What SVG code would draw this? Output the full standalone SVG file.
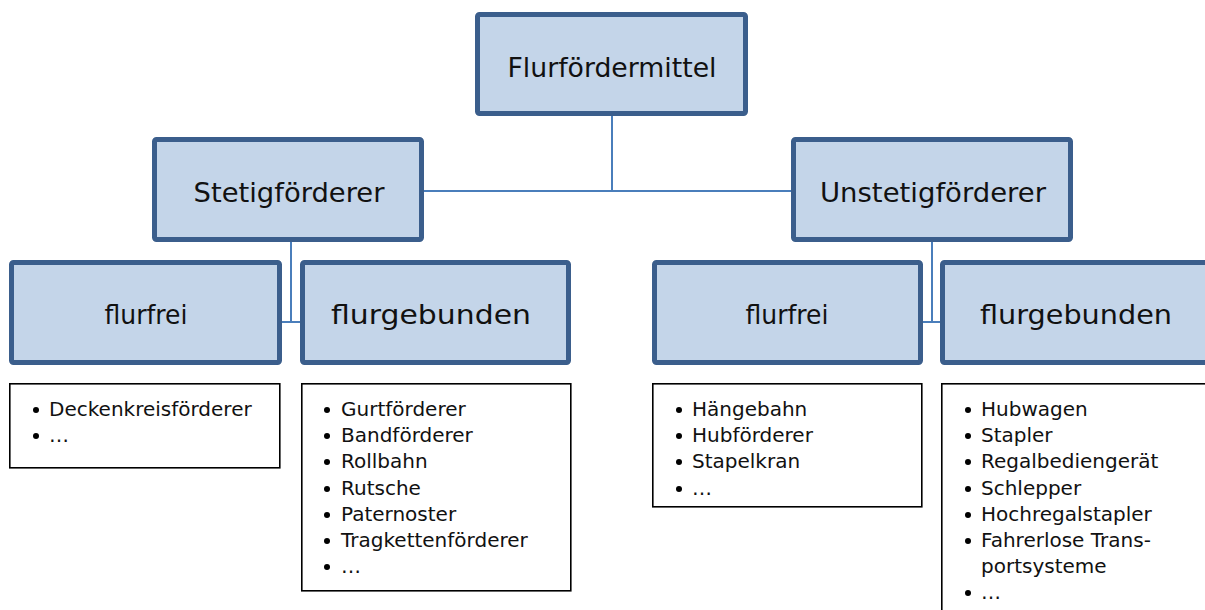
<svg xmlns="http://www.w3.org/2000/svg" width="1205" height="610" viewBox="0 0 1205 610">
<style>
.box{fill:#c4d5e9;stroke:#3b5e8c;stroke-width:5;}
.lbl{font-family:"DejaVu Sans",sans-serif;font-size:27px;fill:#111;text-anchor:middle;}
.list{fill:#fff;stroke:#000;stroke-width:1.6;}
.it{font-family:"DejaVu Sans",sans-serif;font-size:20px;fill:#111;}
.con{stroke:#4a7ebb;stroke-width:2;fill:none;}
.b{fill:#000;}
</style>
<rect width="1205" height="610" fill="#fff"/>
<g id="connectors">
<path class="con" d="M612 116V191M424 191H791"/>
<path class="con" d="M291 242V322M282 322H300"/>
<path class="con" d="M932 242V322M923 322H940"/>
</g>
<g id="n-root">
<rect class="box" x="477.5" y="14.5" width="268" height="99" rx="2"/>
<text class="lbl" x="612" y="77" textLength="209" lengthAdjust="spacingAndGlyphs">Flurfördermittel</text>
</g>
<g id="n-stetig">
<rect class="box" x="154.5" y="139.5" width="267" height="100" rx="2"/>
<text class="lbl" x="289" y="202" textLength="191" lengthAdjust="spacingAndGlyphs">Stetigförderer</text>
</g>
<g id="n-unstetig">
<rect class="box" x="793.5" y="139.5" width="277" height="100" rx="2"/>
<text class="lbl" x="933" y="202" textLength="226" lengthAdjust="spacingAndGlyphs">Unstetigförderer</text>
</g>
<g id="n-s-flurfrei">
<rect class="box" x="11.5" y="262.5" width="268" height="100" rx="2"/>
<text class="lbl" x="146" y="324" textLength="83" lengthAdjust="spacingAndGlyphs">flurfrei</text>
</g>
<g id="n-s-flurgebunden">
<rect class="box" x="302.5" y="262.5" width="266" height="100" rx="2"/>
<text class="lbl" x="431" y="324" textLength="200" lengthAdjust="spacingAndGlyphs">flurgebunden</text>
</g>
<g id="n-u-flurfrei">
<rect class="box" x="654.5" y="262.5" width="266" height="100" rx="2"/>
<text class="lbl" x="787" y="324" textLength="83" lengthAdjust="spacingAndGlyphs">flurfrei</text>
</g>
<g id="n-u-flurgebunden">
<rect class="box" x="942.5" y="262.5" width="266" height="100" rx="2"/>
<text class="lbl" x="1076" y="324" textLength="192" lengthAdjust="spacingAndGlyphs">flurgebunden</text>
</g>
<g id="l-s-flurfrei">
<rect class="list" x="9.8" y="383.8" width="270" height="84"/>
<circle class="b" cx="36" cy="410" r="3"/><text class="it" x="49" y="416">Deckenkreisförderer</text>
<circle class="b" cx="36" cy="436" r="3"/><text class="it" x="49" y="442">…</text>
</g>
<g id="l-s-flurgebunden">
<rect class="list" x="301.8" y="383.8" width="269" height="207"/>
<circle class="b" cx="327" cy="410" r="3"/><text class="it" x="341" y="416">Gurtförderer</text>
<circle class="b" cx="327" cy="436" r="3"/><text class="it" x="341" y="442">Bandförderer</text>
<circle class="b" cx="327" cy="462" r="3"/><text class="it" x="341" y="468">Rollbahn</text>
<circle class="b" cx="327" cy="489" r="3"/><text class="it" x="341" y="495">Rutsche</text>
<circle class="b" cx="327" cy="515" r="3"/><text class="it" x="341" y="521">Paternoster</text>
<circle class="b" cx="327" cy="541" r="3"/><text class="it" x="341" y="547">Tragkettenförderer</text>
<circle class="b" cx="327" cy="567" r="3"/><text class="it" x="341" y="573">…</text>
</g>
<g id="l-u-flurfrei">
<rect class="list" x="652.8" y="383.8" width="269" height="123"/>
<circle class="b" cx="679" cy="410" r="3"/><text class="it" x="692" y="416">Hängebahn</text>
<circle class="b" cx="679" cy="436" r="3"/><text class="it" x="692" y="442">Hubförderer</text>
<circle class="b" cx="679" cy="462" r="3"/><text class="it" x="692" y="468">Stapelkran</text>
<circle class="b" cx="679" cy="489" r="3"/><text class="it" x="692" y="495">…</text>
</g>
<g id="l-u-flurgebunden">
<rect class="list" x="941.8" y="383.8" width="270" height="240"/>
<circle class="b" cx="968" cy="410" r="3"/><text class="it" x="981" y="416">Hubwagen</text>
<circle class="b" cx="968" cy="436" r="3"/><text class="it" x="981" y="442">Stapler</text>
<circle class="b" cx="968" cy="462" r="3"/><text class="it" x="981" y="468">Regalbediengerät</text>
<circle class="b" cx="968" cy="489" r="3"/><text class="it" x="981" y="495">Schlepper</text>
<circle class="b" cx="968" cy="515" r="3"/><text class="it" x="981" y="521">Hochregalstapler</text>
<circle class="b" cx="968" cy="541" r="3"/><text class="it" x="981" y="547">Fahrerlose Trans-</text>
<text class="it" x="981" y="573">portsysteme</text>
<circle class="b" cx="968" cy="593" r="3"/><text class="it" x="981" y="599">…</text>
</g>
</svg>
